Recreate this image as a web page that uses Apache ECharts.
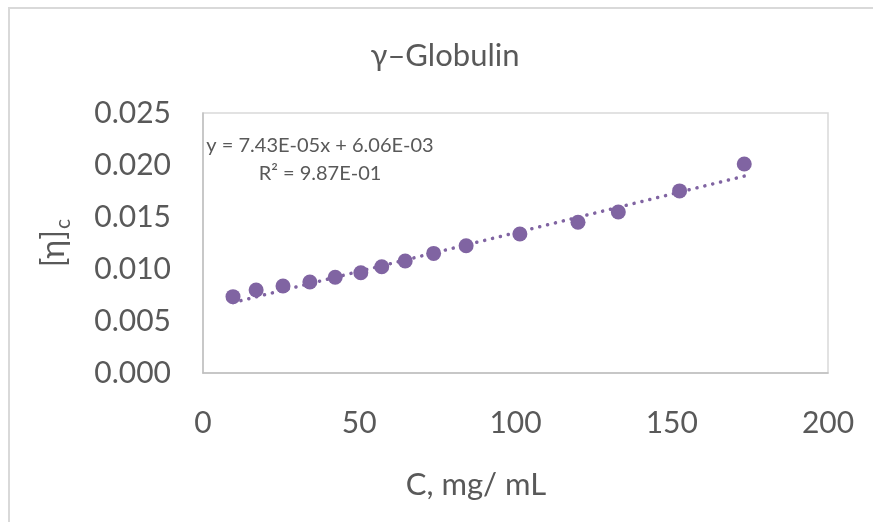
<!DOCTYPE html>
<html>
<head>
<meta charset="utf-8">
<script src="https://cdn.jsdelivr.net/npm/echarts@6/dist/echarts.min.js"></script>
<style>
html,body{margin:0;padding:0;background:#fff;}
#chart{width:873px;height:522px;}
</style>
</head>
<body>
<div id="chart"></div>
<script>
// Data
const concentration = [9.6, 17.0, 25.6, 34.2, 42.3, 50.5, 57.2, 64.7, 73.8, 84.2, 101.4, 120.0, 132.9, 152.5, 173.2];
const viscosity = [0.00734, 0.00798, 0.00837, 0.00875, 0.00920, 0.00964, 0.01022, 0.01077, 0.01150, 0.01223, 0.01337, 0.01449, 0.01548, 0.01751, 0.02010];
const trendX = [9.6, 173.2];
const trendY = [0.00677, 0.01893];
const xTicks = [0, 50, 100, 150, 200];
const yTicks = [0.000, 0.005, 0.010, 0.015, 0.020, 0.025];
const titleText = 'γ–Globulin';
const xTitle = 'C, mg/ mL';
const yTitleMain = '[η]';
const yTitleSub = 'c';
const equationText = 'y = 7.43E-05x + 6.06E-03';
const r2Text = 'R² = 9.87E-01';

const FONT = 'Lato, "Open Sans", sans-serif';
const GREY = '#595959';
const PURPLE = '#8064A2';

const chart = echarts.init(document.getElementById('chart'));
const points = concentration.map((c, i) => [c, viscosity[i]]);
const trend = trendX.map((x, i) => [x, trendY[i]]);

chart.setOption({
  animation: false,
  backgroundColor: '#fff',
  textStyle: { fontFamily: FONT },
  grid: {
    left: 203, top: 113, width: 625, height: 260,
    show: true, borderColor: '#d9d9d9', borderWidth: 1.5, backgroundColor: 'transparent'
  },
  xAxis: {
    type: 'value',
    min: xTicks[0], max: xTicks[xTicks.length - 1], interval: 50,
    axisLine: { show: true, onZero: false, lineStyle: { color: '#bfbfbf', width: 1.5 } },
    axisTick: { show: false },
    splitLine: { show: false },
    axisLabel: { color: GREY, fontSize: 30, fontFamily: FONT, margin: 35 }
  },
  yAxis: {
    type: 'value',
    min: yTicks[0], max: yTicks[yTicks.length - 1], interval: 0.005,
    axisLine: { show: true, onZero: false, lineStyle: { color: '#bfbfbf', width: 1.5 } },
    axisTick: { show: false },
    splitLine: { show: false },
    axisLabel: { color: GREY, fontSize: 30, fontFamily: FONT, margin: 32,
      formatter: v => v.toFixed(3) }
  },
  series: [
    {
      type: 'line',
      data: trend,
      symbol: 'none',
      lineStyle: { color: PURPLE, width: 3.5, type: [0.1, 8], cap: 'round' },
      z: 2,
      silent: true
    },
    {
      type: 'scatter',
      data: points,
      symbolSize: 15,
      itemStyle: { color: PURPLE, opacity: 1 },
      z: 3
    }
  ],
  graphic: [
    { type: 'rect', shape: { x: 9, y: 8, width: 900, height: 600 },
      style: { fill: 'none', stroke: '#d9d9d9', lineWidth: 2 }, z: -1 },
    { type: 'text', x: 445, y: 56,
      style: { text: titleText, fill: GREY, font: '31px ' + FONT, textAlign: 'center', textVerticalAlign: 'middle' } },
    { type: 'text', x: 476, y: 485,
      style: { text: xTitle, fill: GREY, font: '31px ' + FONT, textAlign: 'center', textVerticalAlign: 'middle' } },
    { type: 'text', x: 320, y: 146,
      style: { text: equationText, fill: GREY, font: '20px ' + FONT, textAlign: 'center', textVerticalAlign: 'middle' } },
    { type: 'text', x: 320, y: 174,
      style: { text: r2Text, fill: GREY, font: '20px ' + FONT, textAlign: 'center', textVerticalAlign: 'middle' } },
    {
      type: 'group', x: 54, y: 230, rotation: Math.PI / 2,
      children: [
        { type: 'text', x: 0, y: 0,
          style: { text: yTitleMain, fill: GREY, font: '32px ' + FONT, textAlign: 'right', textVerticalAlign: 'middle' } },
        { type: 'text', x: 1, y: 9,
          style: { text: yTitleSub, fill: GREY, font: '21px ' + FONT, textAlign: 'left', textVerticalAlign: 'middle' } }
      ]
    }
  ]
});
</script>
</body>
</html>
